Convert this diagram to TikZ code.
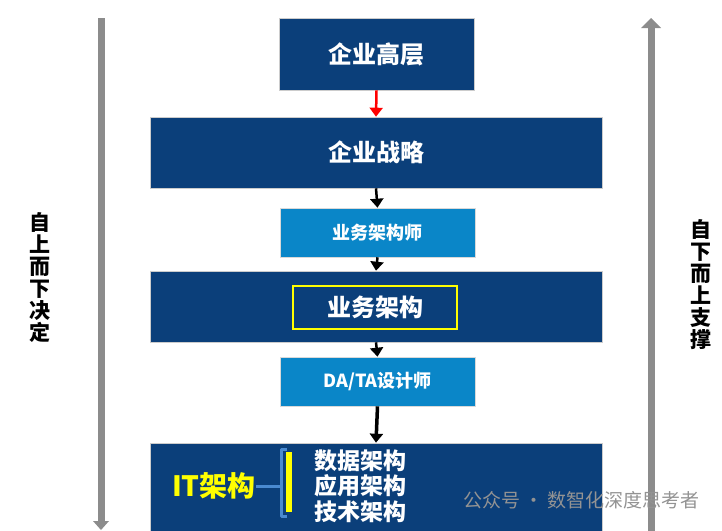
\documentclass[tikz,border=0pt]{standalone}
\usepackage{fontspec}
\setmainfont{Noto Sans CJK SC}
\usetikzlibrary{arrows.meta}
\definecolor{darkbox}{HTML}{0B3F7A}
\definecolor{lightbox}{HTML}{0A86C8}
\definecolor{arrowgray}{HTML}{8C8C8C}
\definecolor{brk}{HTML}{4A8AD0}
\definecolor{ityellow}{HTML}{FFFF00}
\tikzset{
  bigbox/.style={rectangle, fill=darkbox, draw=gray!40, line width=0.6pt, text=white, font=\fontsize{24}{26}\selectfont\bfseries, inner sep=0pt},
  smallbox/.style={rectangle, fill=lightbox, draw=gray!30, line width=0.6pt, text=white, font=\fontsize{18}{20}\selectfont\bfseries, inner sep=0pt},
  flow/.style={draw=black, line width=2.5pt, -{Triangle[length=9pt,width=13pt]}},
  side/.style={draw=arrowgray, line width=7pt},
  sidetext/.style={font=\fontsize{21}{22}\selectfont\bfseries, align=center, text=black, inner sep=0pt},
}
\begin{document}
\begin{tikzpicture}[x=1pt,y=-1pt]
\useasboundingbox (0,0) rectangle (722,530);
\begin{scope}
\clip (0,0) rectangle (722,530);
% side arrows
\draw[side] (101,18) -- (101,522);
\fill[arrowgray] (93,521) -- (109,521) -- (101,530) -- cycle;
\draw[side] (651,26) -- (651,535);
\fill[arrowgray] (641,28) -- (661,28) -- (651,18) -- cycle;
\node[sidetext] (ltext) at (40,278) {自\\上\\而\\下\\决\\定};
\node[sidetext] (rtext) at (701,285) {自\\下\\而\\上\\支\\撑};
% boxes
\node[bigbox, minimum width=195pt, minimum height=72pt] (top) at (376.5,54) {企业高层};
\node[bigbox, minimum width=452pt, minimum height=71pt] (strat) at (376,152.5) {企业战略};
\node[smallbox, minimum width=195pt, minimum height=49pt] (ba) at (377.5,232.5) {业务架构师};
\node[bigbox, minimum width=452pt, minimum height=71pt] (barch) at (376,306.5) {};
\node[rectangle, draw=ityellow, line width=2.5pt, minimum width=164pt, minimum height=43pt, text=white, font=\fontsize{24}{26}\selectfont\bfseries] (barchin) at (375,307.5) {业务架构};
\node[smallbox, minimum width=195pt, minimum height=49pt] (data) at (377.5,381.5) {DA/TA设计师};
\node[bigbox, minimum width=452pt, minimum height=100pt] (it) at (376,493) {};
% arrows
\draw[flow, draw=red, -{Triangle[length=9pt,width=13pt,fill=red]}] (top.south) -- (strat.north);
\draw[flow] (strat.south) -- (ba.north);
\draw[flow] (ba.south) -- (barch.north);
\draw[flow] (barch.south) -- (data.north);
\draw[flow, line width=3.5pt] (data.south) -- (it.north);
% IT block contents
\node[anchor=west, align=left, text=white, inner sep=0pt, font=\fontsize{23}{25.5}\selectfont\bfseries] (itlist) at (314,486) {数据架构\\应用架构\\技术架构};
\node[text=ityellow, inner sep=0pt, font=\fontsize{28}{30}\selectfont\bfseries] (itlabel) at (214,486) {IT架构};
\coordinate (bk) at (281,486);
\draw[brk, line width=3pt] (itlabel.east) -- (bk);
\draw[brk, line width=3pt, line join=round] (287,449) -- (281,449) -- (281,516) -- (287,516);
\fill[ityellow] (286,452) rectangle (292,512);
% watermark
\node[anchor=east, text=gray!85, inner sep=0pt, font=\fontsize{19}{20}\selectfont] (wm) at (700,500) {公众号 · 数智化深度思考者};
\end{scope}
\end{tikzpicture}
\end{document}
